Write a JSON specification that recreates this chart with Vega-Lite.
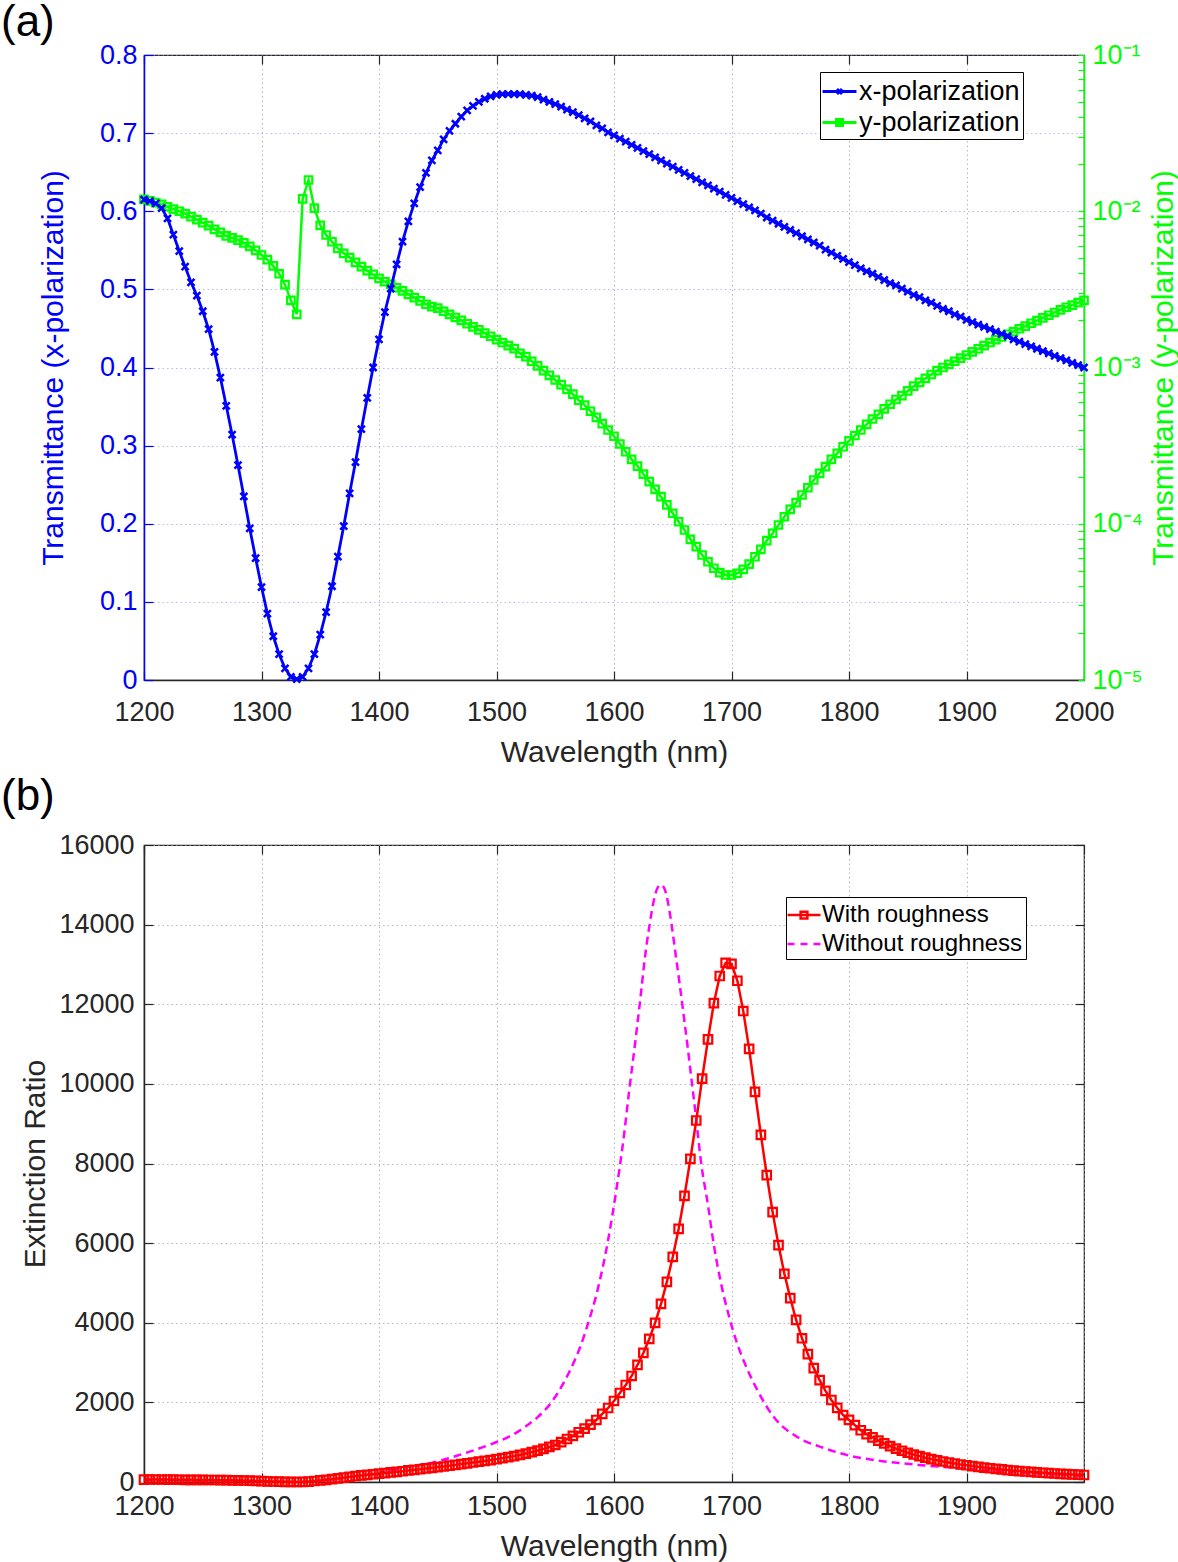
{
"$schema": "https://vega.github.io/schema/vega-lite/v6.json",
"padding": 0,
"autosize": {"type": "pad"},
"config": {
  "font": "Liberation Sans",
  "view": {"stroke": "#262626", "strokeWidth": 1.2},
  "axis": {"labelFont": "Liberation Sans", "titleFont": "Liberation Sans", "titleFontWeight": "normal", "labelFontSize": 27, "titleFontSize": 30, "labelOverlap": false, "labelFlush": false, "domainWidth": 1.5, "tickWidth": 1.2},
  "title": {"font": "Liberation Sans", "fontWeight": "normal", "fontSize": 44, "color": "#000000", "anchor": "start", "frame": "group"}
},
"datasets": {
 "a": [
{"wl":1200,"tx":0.615,"ty":0.0119},{"wl":1205,"tx":0.613,"ty":0.01164},{"wl":1210,"tx":0.610,"ty":0.01135},{"wl":1215,"tx":0.604,"ty":0.01107},{"wl":1220,"tx":0.591,"ty":0.01069},{"wl":1225,"tx":0.570,"ty":0.01033},{"wl":1230,"tx":0.549,"ty":0.0100},{"wl":1235,"tx":0.529,"ty":0.00966},{"wl":1240,"tx":0.509,"ty":0.00923},{"wl":1245,"tx":0.492,"ty":0.00883},
{"wl":1250,"tx":0.472,"ty":0.00845},{"wl":1255,"tx":0.449,"ty":0.00809},{"wl":1260,"tx":0.420,"ty":0.00766},{"wl":1265,"tx":0.387,"ty":0.00733},{"wl":1270,"tx":0.351,"ty":0.00695},{"wl":1275,"tx":0.314,"ty":0.00676},{"wl":1280,"tx":0.275,"ty":0.00653},{"wl":1285,"tx":0.235,"ty":0.00627},{"wl":1290,"tx":0.194,"ty":0.00596},{"wl":1295,"tx":0.156,"ty":0.00562},
{"wl":1300,"tx":0.119,"ty":0.00525},{"wl":1305,"tx":0.085,"ty":0.00490},{"wl":1310,"tx":0.056,"ty":0.00447},{"wl":1315,"tx":0.033,"ty":0.00398},{"wl":1320,"tx":0.015,"ty":0.00339},{"wl":1325,"tx":0.004,"ty":0.00269},{"wl":1330,"tx":0.001,"ty":0.00219},{"wl":1335,"tx":0.004,"ty":0.0120},{"wl":1340,"tx":0.015,"ty":0.01585},{"wl":1345,"tx":0.033,"ty":0.01047},
{"wl":1350,"tx":0.058,"ty":0.00813},{"wl":1355,"tx":0.087,"ty":0.00705},{"wl":1360,"tx":0.120,"ty":0.00638},{"wl":1365,"tx":0.158,"ty":0.00579},{"wl":1370,"tx":0.197,"ty":0.00538},{"wl":1375,"tx":0.239,"ty":0.00505},{"wl":1380,"tx":0.279,"ty":0.00471},{"wl":1385,"tx":0.321,"ty":0.00442},{"wl":1390,"tx":0.361,"ty":0.00417},{"wl":1395,"tx":0.400,"ty":0.00394},
{"wl":1400,"tx":0.436,"ty":0.00372},{"wl":1405,"tx":0.471,"ty":0.00354},{"wl":1410,"tx":0.501,"ty":0.00340},{"wl":1415,"tx":0.532,"ty":0.00324},{"wl":1420,"tx":0.561,"ty":0.00309},{"wl":1425,"tx":0.587,"ty":0.00294},{"wl":1430,"tx":0.610,"ty":0.00280},{"wl":1435,"tx":0.631,"ty":0.00267},{"wl":1440,"tx":0.649,"ty":0.00254},{"wl":1445,"tx":0.665,"ty":0.00245},
{"wl":1450,"tx":0.678,"ty":0.00240},{"wl":1455,"tx":0.692,"ty":0.00229},{"wl":1460,"tx":0.703,"ty":0.00219},{"wl":1465,"tx":0.712,"ty":0.00209},{"wl":1470,"tx":0.721,"ty":0.00200},{"wl":1475,"tx":0.729,"ty":0.001905},{"wl":1480,"tx":0.735,"ty":0.00182},{"wl":1485,"tx":0.740,"ty":0.00174},{"wl":1490,"tx":0.744,"ty":0.00166},{"wl":1495,"tx":0.747,"ty":0.001585},
{"wl":1500,"tx":0.749,"ty":0.00151},{"wl":1505,"tx":0.750,"ty":0.001445},{"wl":1510,"tx":0.750,"ty":0.00138},{"wl":1515,"tx":0.750,"ty":0.00132},{"wl":1520,"tx":0.750,"ty":0.00123},{"wl":1525,"tx":0.749,"ty":0.001175},{"wl":1530,"tx":0.748,"ty":0.001096},{"wl":1535,"tx":0.746,"ty":0.001023},{"wl":1540,"tx":0.743,"ty":0.000955},{"wl":1545,"tx":0.740,"ty":0.000891},
{"wl":1550,"tx":0.737,"ty":0.000832},{"wl":1555,"tx":0.734,"ty":0.000776},{"wl":1560,"tx":0.730,"ty":0.000724},{"wl":1565,"tx":0.727,"ty":0.000676},{"wl":1570,"tx":0.723,"ty":0.000617},{"wl":1575,"tx":0.719,"ty":0.000575},{"wl":1580,"tx":0.715,"ty":0.000525},{"wl":1585,"tx":0.710,"ty":0.000479},{"wl":1590,"tx":0.706,"ty":0.000437},{"wl":1595,"tx":0.701,"ty":0.000398},
{"wl":1600,"tx":0.697,"ty":0.000363},{"wl":1605,"tx":0.693,"ty":0.000324},{"wl":1610,"tx":0.689,"ty":0.000289},{"wl":1615,"tx":0.685,"ty":0.000258},{"wl":1620,"tx":0.681,"ty":0.000234},{"wl":1625,"tx":0.677,"ty":0.000208},{"wl":1630,"tx":0.673,"ty":0.000186},{"wl":1635,"tx":0.669,"ty":0.000166},{"wl":1640,"tx":0.665,"ty":0.000149},{"wl":1645,"tx":0.661,"ty":0.000132},
{"wl":1650,"tx":0.657,"ty":0.0001167},{"wl":1655,"tx":0.653,"ty":0.000103},{"wl":1660,"tx":0.649,"ty":0.0000912},{"wl":1665,"tx":0.645,"ty":0.0000794},{"wl":1670,"tx":0.641,"ty":0.0000713},{"wl":1675,"tx":0.637,"ty":0.0000631},{"wl":1680,"tx":0.633,"ty":0.0000571},{"wl":1685,"tx":0.629,"ty":0.0000519},{"wl":1690,"tx":0.625,"ty":0.0000486},{"wl":1695,"tx":0.621,"ty":0.0000470},
{"wl":1700,"tx":0.617,"ty":0.0000470},{"wl":1705,"tx":0.613,"ty":0.0000482},{"wl":1710,"tx":0.609,"ty":0.0000511},{"wl":1715,"tx":0.605,"ty":0.0000552},{"wl":1720,"tx":0.601,"ty":0.0000615},{"wl":1725,"tx":0.597,"ty":0.0000685},{"wl":1730,"tx":0.592,"ty":0.0000780},{"wl":1735,"tx":0.588,"ty":0.0000869},{"wl":1740,"tx":0.584,"ty":0.0000982},{"wl":1745,"tx":0.580,"ty":0.0001109},
{"wl":1750,"tx":0.576,"ty":0.0001236},{"wl":1755,"tx":0.572,"ty":0.0001365},{"wl":1760,"tx":0.568,"ty":0.0001528},{"wl":1765,"tx":0.564,"ty":0.000170},{"wl":1770,"tx":0.560,"ty":0.0001905},{"wl":1775,"tx":0.556,"ty":0.000210},{"wl":1780,"tx":0.551,"ty":0.000232},{"wl":1785,"tx":0.547,"ty":0.000258},{"wl":1790,"tx":0.543,"ty":0.000282},{"wl":1795,"tx":0.539,"ty":0.000311},
{"wl":1800,"tx":0.535,"ty":0.000339},{"wl":1805,"tx":0.531,"ty":0.000367},{"wl":1810,"tx":0.527,"ty":0.000398},{"wl":1815,"tx":0.523,"ty":0.000432},{"wl":1820,"tx":0.520,"ty":0.000468},{"wl":1825,"tx":0.516,"ty":0.000501},{"wl":1830,"tx":0.512,"ty":0.000543},{"wl":1835,"tx":0.508,"ty":0.000582},{"wl":1840,"tx":0.505,"ty":0.000624},{"wl":1845,"tx":0.501,"ty":0.000661},
{"wl":1850,"tx":0.497,"ty":0.000708},{"wl":1855,"tx":0.493,"ty":0.000759},{"wl":1860,"tx":0.490,"ty":0.000804},{"wl":1865,"tx":0.486,"ty":0.000851},{"wl":1870,"tx":0.483,"ty":0.000902},{"wl":1875,"tx":0.479,"ty":0.000955},{"wl":1880,"tx":0.475,"ty":0.00100},{"wl":1885,"tx":0.472,"ty":0.001047},{"wl":1890,"tx":0.468,"ty":0.001096},{"wl":1895,"tx":0.465,"ty":0.001148},
{"wl":1900,"tx":0.461,"ty":0.001202},{"wl":1905,"tx":0.458,"ty":0.001259},{"wl":1910,"tx":0.455,"ty":0.001318},{"wl":1915,"tx":0.452,"ty":0.00138},{"wl":1920,"tx":0.449,"ty":0.001445},{"wl":1925,"tx":0.446,"ty":0.00151},{"wl":1930,"tx":0.443,"ty":0.001567},{"wl":1935,"tx":0.440,"ty":0.001633},{"wl":1940,"tx":0.436,"ty":0.001698},{"wl":1945,"tx":0.433,"ty":0.00177},
{"wl":1950,"tx":0.430,"ty":0.00184},{"wl":1955,"tx":0.427,"ty":0.00192},{"wl":1960,"tx":0.424,"ty":0.001995},{"wl":1965,"tx":0.421,"ty":0.00208},{"wl":1970,"tx":0.418,"ty":0.00216},{"wl":1975,"tx":0.415,"ty":0.00225},{"wl":1980,"tx":0.412,"ty":0.00234},{"wl":1985,"tx":0.409,"ty":0.00243},{"wl":1990,"tx":0.406,"ty":0.00251},{"wl":1995,"tx":0.403,"ty":0.00260},
{"wl":2000,"tx":0.400,"ty":0.00269}
 ],
 "red": [
{"wl":1200,"er":60},{"wl":1205,"er":62},{"wl":1210,"er":63},{"wl":1215,"er":62},{"wl":1220,"er":60},{"wl":1225,"er":58},{"wl":1230,"er":57},{"wl":1235,"er":55},{"wl":1240,"er":54},{"wl":1245,"er":53},
{"wl":1250,"er":52},{"wl":1255,"er":51},{"wl":1260,"er":50},{"wl":1265,"er":47},{"wl":1270,"er":45},{"wl":1275,"er":43},{"wl":1280,"er":40},{"wl":1285,"er":37},{"wl":1290,"er":33},{"wl":1295,"er":28},
{"wl":1300,"er":23},{"wl":1305,"er":17},{"wl":1310,"er":12},{"wl":1315,"er":8},{"wl":1320,"er":4},{"wl":1325,"er":1},{"wl":1330,"er":0.5},{"wl":1335,"er":3},{"wl":1340,"er":10},{"wl":1345,"er":25},
{"wl":1350,"er":40},{"wl":1355,"er":55},{"wl":1360,"er":70},{"wl":1365,"er":90},{"wl":1370,"er":110},{"wl":1375,"er":130},{"wl":1380,"er":150},{"wl":1385,"er":165},{"wl":1390,"er":180},{"wl":1395,"er":195},
{"wl":1400,"er":210},{"wl":1405,"er":225},{"wl":1410,"er":240},{"wl":1415,"er":255},{"wl":1420,"er":270},{"wl":1425,"er":290},{"wl":1430,"er":305},{"wl":1435,"er":320},{"wl":1440,"er":340},{"wl":1445,"er":355},
{"wl":1450,"er":375},{"wl":1455,"er":390},{"wl":1460,"er":410},{"wl":1465,"er":430},{"wl":1470,"er":450},{"wl":1475,"er":470},{"wl":1480,"er":490},{"wl":1485,"er":510},{"wl":1490,"er":530},{"wl":1495,"er":550},
{"wl":1500,"er":575},{"wl":1505,"er":600},{"wl":1510,"er":625},{"wl":1515,"er":650},{"wl":1520,"er":680},{"wl":1525,"er":715},{"wl":1530,"er":750},{"wl":1535,"er":790},{"wl":1540,"er":830},{"wl":1545,"er":880},
{"wl":1550,"er":930},{"wl":1555,"er":1000},{"wl":1560,"er":1080},{"wl":1565,"er":1160},{"wl":1570,"er":1250},{"wl":1575,"er":1340},{"wl":1580,"er":1440},{"wl":1585,"er":1558},{"wl":1590,"er":1709},{"wl":1595,"er":1859},
{"wl":1600,"er":2035},{"wl":1605,"er":2236},{"wl":1610,"er":2437},{"wl":1615,"er":2663},{"wl":1620,"er":2940},{"wl":1625,"er":3241},{"wl":1630,"er":3593},{"wl":1635,"er":3995},{"wl":1640,"er":4472},{"wl":1645,"er":5025},
{"wl":1650,"er":5653},{"wl":1655,"er":6357},{"wl":1660,"er":7186},{"wl":1665,"er":8115},{"wl":1670,"er":9080},{"wl":1675,"er":10130},{"wl":1680,"er":11120},{"wl":1685,"er":12030},{"wl":1690,"er":12710},{"wl":1695,"er":13040},
{"wl":1700,"er":13015},{"wl":1705,"er":12590},{"wl":1710,"er":11830},{"wl":1715,"er":10880},{"wl":1720,"er":9800},{"wl":1725,"er":8720},{"wl":1730,"er":7710},{"wl":1735,"er":6780},{"wl":1740,"er":5950},{"wl":1745,"er":5230},
{"wl":1750,"er":4620},{"wl":1755,"er":4070},{"wl":1760,"er":3610},{"wl":1765,"er":3210},{"wl":1770,"er":2860},{"wl":1775,"er":2560},{"wl":1780,"er":2290},{"wl":1785,"er":2060},{"wl":1790,"er":1860},{"wl":1795,"er":1680},
{"wl":1800,"er":1560},{"wl":1805,"er":1430},{"wl":1810,"er":1300},{"wl":1815,"er":1200},{"wl":1820,"er":1120},{"wl":1825,"er":1040},{"wl":1830,"er":970},{"wl":1835,"er":900},{"wl":1840,"er":840},{"wl":1845,"er":785},
{"wl":1850,"er":735},{"wl":1855,"er":690},{"wl":1860,"er":650},{"wl":1865,"er":610},{"wl":1870,"er":575},{"wl":1875,"er":545},{"wl":1880,"er":515},{"wl":1885,"er":490},{"wl":1890,"er":465},{"wl":1895,"er":440},
{"wl":1900,"er":420},{"wl":1905,"er":400},{"wl":1910,"er":380},{"wl":1915,"er":362},{"wl":1920,"er":345},{"wl":1925,"er":330},{"wl":1930,"er":315},{"wl":1935,"er":300},{"wl":1940,"er":287},{"wl":1945,"er":275},
{"wl":1950,"er":263},{"wl":1955,"er":252},{"wl":1960,"er":242},{"wl":1965,"er":232},{"wl":1970,"er":223},{"wl":1975,"er":214},{"wl":1980,"er":206},{"wl":1985,"er":198},{"wl":1990,"er":190},{"wl":1995,"er":183},
{"wl":2000,"er":176}
 ],
 "mag": [
{"wl":1200,"er":50},{"wl":1225,"er":48},{"wl":1250,"er":42},{"wl":1275,"er":32},{"wl":1300,"er":18},{"wl":1320,"er":6},{"wl":1330,"er":1},{"wl":1340,"er":12},{"wl":1360,"er":70},{"wl":1390,"er":180},
{"wl":1419,"er":350},{"wl":1447,"er":500},{"wl":1476,"er":750},{"wl":1498,"er":980},{"wl":1510,"er":1130},{"wl":1518,"er":1260},{"wl":1525,"er":1400},{"wl":1535,"er":1630},{"wl":1544,"er":1900},{"wl":1552,"er":2230},
{"wl":1560,"er":2650},{"wl":1566,"er":3020},{"wl":1572,"er":3450},{"wl":1578,"er":3990},{"wl":1586,"er":4820},{"wl":1595,"er":6080},{"wl":1602,"er":7340},{"wl":1608,"er":8590},{"wl":1613,"er":9850},{"wl":1618,"er":11030},
{"wl":1623,"er":12290},{"wl":1626,"er":13100},{"wl":1630,"er":13940},{"wl":1634,"er":14620},{"wl":1637,"er":14920},{"wl":1640,"er":15000},{"wl":1643,"er":14900},{"wl":1646,"er":14550},{"wl":1649,"er":14000},{"wl":1652,"er":13350},
{"wl":1656,"er":12480},{"wl":1660,"er":11560},{"wl":1663,"er":10850},{"wl":1666,"er":10100},{"wl":1670,"er":9100},{"wl":1674,"er":8050},{"wl":1680,"er":6950},{"wl":1685,"er":5950},{"wl":1691,"er":5000},{"wl":1698,"er":4150},
{"wl":1704,"er":3550},{"wl":1711,"er":3000},{"wl":1722,"er":2310},{"wl":1736,"er":1630},{"wl":1756,"er":1130},{"wl":1779,"er":850},{"wl":1802,"er":650},{"wl":1827,"er":530},{"wl":1859,"er":430},{"wl":1880,"er":380},
{"wl":1900,"er":330},{"wl":1950,"er":230},{"wl":2000,"er":150}
 ]
},
"spacing": 165,
"bounds": "flush",
"resolve": {"scale": {"color": "independent"}, "legend": {"color": "independent"}},
"vconcat": [
 {
  "width": 940, "height": 625,
  "title": {"text": "(a)", "dx": -143, "offset": 6, "dy": 10},
  "data": {"name": "a"},
  "resolve": {"scale": {"y": "independent", "x": "independent"}},
  "layer": [
   {
    "layer": [
     {"mark": {"type": "line", "strokeWidth": 2.5, "clip": true}},
     {"mark": {"type": "point", "shape": "square", "filled": false, "size": 56, "strokeWidth": 2.2, "opacity": 1}}
    ],
    "encoding": {
     "x": {"field": "wl", "type": "quantitative", "scale": {"domain": [1200, 2000]},
       "axis": {"orient": "bottom", "title": "Wavelength (nm)", "values": [1200,1300,1400,1500,1600,1700,1800,1900,2000], "format": "d", "grid": true, "gridColor": "#9a9a9a", "gridDash": [1.5,3], "gridOpacity": 0.7, "tickSize": -9, "tickColor": "#262626", "domainColor": "#262626", "labelColor": "#262626", "titleColor": "#262626", "labelPadding": 28, "titlePadding": 12}},
     "y": {"field": "ty", "type": "quantitative", "scale": {"type": "log", "domain": [0.00001, 0.1]},
       "axis": {"orient": "right", "title": "Transmittance (y-polarization)", "titleAngle": 270, "values": [0.00001,0.00002,0.00003,0.00004,0.00005,0.00006,0.00007,0.00008,0.00009,0.0001,0.0002,0.0003,0.0004,0.0005,0.0006,0.0007,0.0008,0.0009,0.001,0.002,0.003,0.004,0.005,0.006,0.007,0.008,0.009,0.01,0.02,0.03,0.04,0.05,0.06,0.07,0.08,0.09,0.1],
         "labelExpr": "abs(log(datum.value)/LN10 - round(log(datum.value)/LN10)) < 0.01 ? '10' + ['','⁻¹','⁻²','⁻³','⁻⁴','⁻⁵'][-round(log(datum.value)/LN10)] : ''",
         "grid": false, "tickSize": -6, "tickColor": "#00ff00", "domainColor": "#00ff00", "labelColor": "#00ff00", "titleColor": "#00ff00", "labelPadding": 14, "titlePadding": 36}},
     "color": {"datum": "y-polarization", "type": "nominal", "scale": {"domain": ["x-polarization", "y-polarization"], "range": ["#0000ff", "#00ff00"]},
       "legend": {"title": null, "orient": "none", "legendX": 676, "legendY": 17, "fillColor": "#ffffff", "strokeColor": "#000000", "padding": 3, "rowPadding": 1, "labelFontSize": 27, "labelLimit": 0, "labelColor": "#000000", "labelFont": "Liberation Sans", "labelOffset": 3, "symbolSize": 900, "symbolStrokeWidth": 3,
         "encode": {"symbols": {"update": {"shape": {"signal": "datum.value === 'x-polarization' ? 'M-1.13,0H1.13M-0.17,-0.17L0.17,0.17M-0.17,0.17L0.17,-0.17' : 'M-1.13,0H1.13M-0.2,-0.2H0.2V0.2H-0.2Z'"}, "fill": {"value": "transparent"}, "strokeWidth": {"value": 3}}}}}}
    }
   },
   {
    "layer": [
     {"mark": {"type": "line", "strokeWidth": 2.8, "clip": true}},
     {"mark": {"type": "point", "shape": "M-1,-1L1,1M-1,1L1,-1", "filled": false, "size": 49, "strokeWidth": 2.5, "opacity": 1}}
    ],
    "encoding": {
     "x": {"field": "wl", "type": "quantitative", "scale": {"domain": [1200, 2000]},
       "axis": {"orient": "top", "title": null, "labels": false, "domain": false, "grid": false, "values": [1200,1300,1400,1500,1600,1700,1800,1900,2000], "tickSize": -9, "tickColor": "#262626"}},
     "y": {"field": "tx", "type": "quantitative", "scale": {"domain": [0, 0.8]},
       "axis": {"orient": "left", "title": "Transmittance (x-polarization)", "values": [0,0.1,0.2,0.3,0.4,0.5,0.6,0.7,0.8], "format": "~g", "grid": true, "gridColor": "#8888ee", "gridDash": [1.5,3], "gridOpacity": 0.6, "tickSize": -9, "tickColor": "#0000ff", "domainColor": "#0000ff", "labelColor": "#0000ff", "titleColor": "#0000ff", "labelPadding": 16, "titlePadding": 31}},
     "color": {"datum": "x-polarization", "type": "nominal", "scale": {"domain": ["x-polarization", "y-polarization"], "range": ["#0000ff", "#00ff00"]},
       "legend": {"title": null, "orient": "none", "legendX": 676, "legendY": 17, "fillColor": "#ffffff", "strokeColor": "#000000", "padding": 3, "rowPadding": 1, "labelFontSize": 27, "labelLimit": 0, "labelColor": "#000000", "labelFont": "Liberation Sans", "labelOffset": 3, "symbolSize": 900, "symbolStrokeWidth": 3,
         "encode": {"symbols": {"update": {"shape": {"signal": "datum.value === 'x-polarization' ? 'M-1.13,0H1.13M-0.17,-0.17L0.17,0.17M-0.17,0.17L0.17,-0.17' : 'M-1.13,0H1.13M-0.2,-0.2H0.2V0.2H-0.2Z'"}, "fill": {"value": "transparent"}, "strokeWidth": {"value": 3}}}}}}
    }
   }
  ]
 },
 {
  "width": 940, "height": 637,
  "title": {"text": "(b)", "dx": -143, "offset": 12},
  "resolve": {"scale": {"y": "independent", "x": "independent"}},
  "layer": [
   {
    "data": {"name": "mag"},
    "mark": {"type": "line", "strokeWidth": 2.5, "strokeDash": [8, 5], "interpolate": "monotone"},
    "encoding": {
     "x": {"field": "wl", "type": "quantitative", "scale": {"domain": [1200, 2000]},
       "axis": {"orient": "bottom", "title": "Wavelength (nm)", "values": [1200,1300,1400,1500,1600,1700,1800,1900,2000], "format": "d", "grid": true, "gridColor": "#9a9a9a", "gridDash": [1.5,3], "gridOpacity": 0.7, "tickSize": -9, "tickColor": "#262626", "domainColor": "#262626", "labelColor": "#262626", "titleColor": "#262626", "labelPadding": 20, "titlePadding": 12}},
     "y": {"field": "er", "type": "quantitative", "scale": {"domain": [0, 16000]},
       "axis": {"orient": "left", "title": "Extinction Ratio", "values": [0,2000,4000,6000,8000,10000,12000,14000,16000], "format": "d", "grid": true, "gridColor": "#9a9a9a", "gridDash": [1.5,3], "gridOpacity": 0.7, "tickSize": -9, "tickColor": "#262626", "domainColor": "#262626", "labelColor": "#262626", "titleColor": "#262626", "labelPadding": 19, "titlePadding": 8}},
     "color": {"datum": "Without roughness", "type": "nominal", "scale": {"domain": ["With roughness", "Without roughness"], "range": ["#ff0000", "#ff00ff"]},
       "legend": {"title": null, "orient": "none", "legendX": 642, "legendY": 52, "fillColor": "#ffffff", "strokeColor": "#000000", "padding": 3, "rowPadding": 2, "labelFontSize": 24, "labelLimit": 0, "labelColor": "#000000", "labelFont": "Liberation Sans", "labelOffset": 3, "symbolSize": 729, "symbolStrokeWidth": 2.5,
         "encode": {"symbols": {"update": {"shape": {"signal": "datum.value === 'With roughness' ? 'M-1.22,0H1.22M-0.25,-0.25H0.25V0.25H-0.25Z' : 'M-1.22,0H-0.7M-0.26,0H0.26M0.7,0H1.22'"}, "fill": {"value": "transparent"}, "strokeWidth": {"value": 2.5}}}}}}
    }
   },
   {
    "data": {"name": "red"},
    "layer": [
     {"mark": {"type": "line", "strokeWidth": 2.5}},
     {"mark": {"type": "point", "shape": "square", "filled": false, "size": 72, "strokeWidth": 2.2, "opacity": 1}}
    ],
    "encoding": {
     "x": {"field": "wl", "type": "quantitative", "scale": {"domain": [1200, 2000]},
       "axis": {"orient": "top", "title": null, "labels": false, "domain": false, "grid": false, "values": [1200,1300,1400,1500,1600,1700,1800,1900,2000], "tickSize": -9, "tickColor": "#262626"}},
     "y": {"field": "er", "type": "quantitative", "scale": {"domain": [0, 16000]},
       "axis": {"orient": "right", "title": null, "labels": false, "domain": false, "grid": false, "values": [0,2000,4000,6000,8000,10000,12000,14000,16000], "tickSize": -9, "tickColor": "#262626"}},
     "color": {"datum": "With roughness", "type": "nominal", "scale": {"domain": ["With roughness", "Without roughness"], "range": ["#ff0000", "#ff00ff"]},
       "legend": {"title": null, "orient": "none", "legendX": 642, "legendY": 52, "fillColor": "#ffffff", "strokeColor": "#000000", "padding": 3, "rowPadding": 2, "labelFontSize": 24, "labelLimit": 0, "labelColor": "#000000", "labelFont": "Liberation Sans", "labelOffset": 3, "symbolSize": 729, "symbolStrokeWidth": 2.5,
         "encode": {"symbols": {"update": {"shape": {"signal": "datum.value === 'With roughness' ? 'M-1.22,0H1.22M-0.25,-0.25H0.25V0.25H-0.25Z' : 'M-1.22,0H-0.7M-0.26,0H0.26M0.7,0H1.22'"}, "fill": {"value": "transparent"}, "strokeWidth": {"value": 2.5}}}}}}
    }
   }
  ]
 }
]
}
